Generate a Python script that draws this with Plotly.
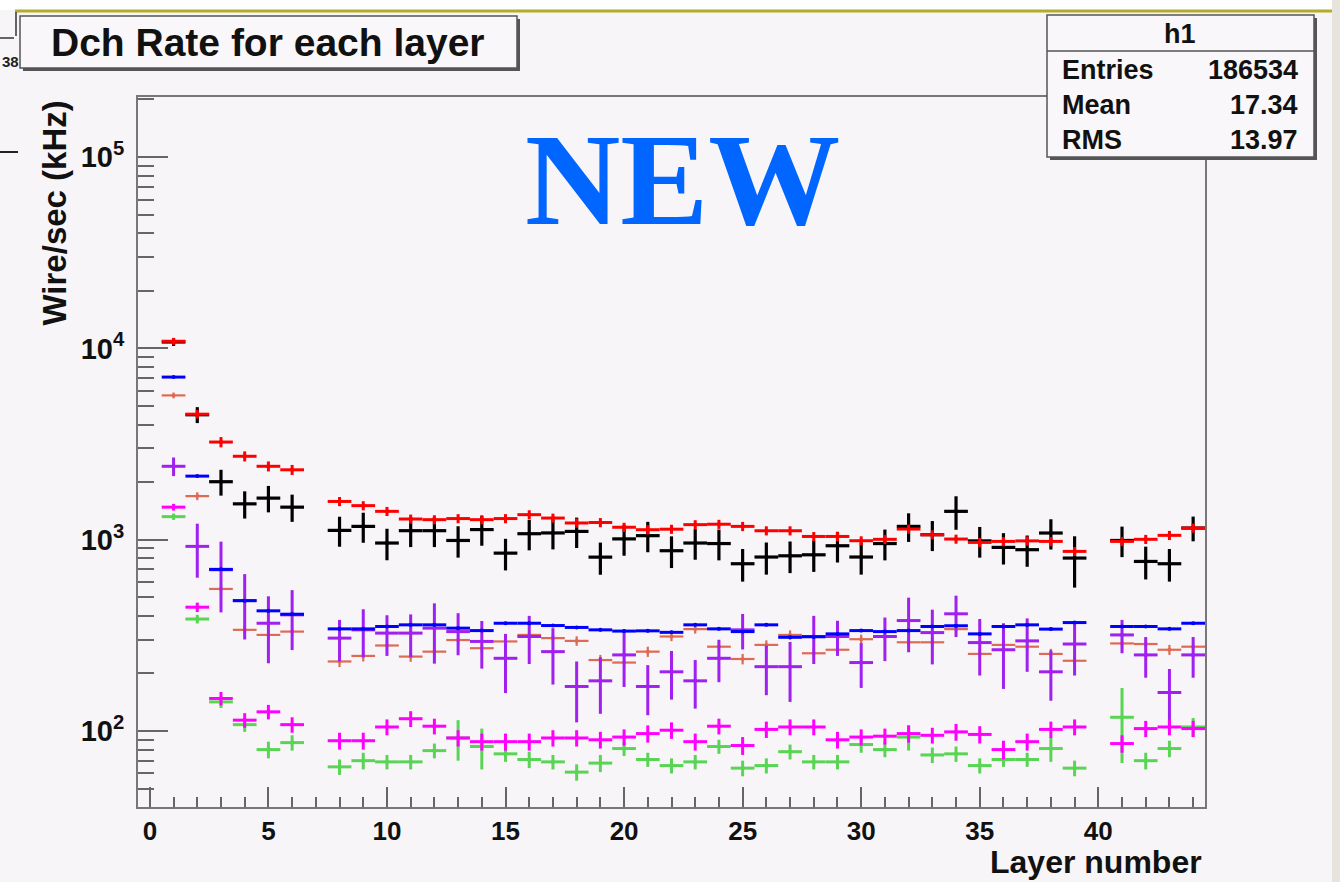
import plotly.graph_objects as go

# ---- layer rates (kHz per wire); None = layer not filled ----
layers = list(range(45))

red = [None, 10900, 4530, 3240, 2730, 2420, 2320, None,
       1585, 1507, 1407, 1283, 1273, 1290, 1273, 1290, 1352, 1298, 1223, 1230,
       1162, 1128, 1135, 1199, 1205, 1174, 1114, 1114, 1040, 1040, 988, 1005,
       1137, 1062, 1008, 968, 980, 986, 980, 869, None, 980, 1005, 1054, 1151]
red_err = [0, 450, 230, 200, 165, 145, 140, 0,
           87, 83, 77, 70, 70, 71, 70, 71, 74, 71, 67, 68,
           64, 62, 62, 66, 66, 65, 61, 61, 57, 57, 54, 55,
           63, 58, 55, 53, 54, 54, 54, 48, 0, 54, 55, 58, 63]

black = [None, 10800, 4500, 2010, 1540, 1650, 1480, None,
         1119, 1174, 961, 1115, 1115, 991, 1130, 851, 1075, 1085, 1105, 811,
         1010, 1050, 876, 961, 955, 749, 812, 824, 834, 930, 812, 955,
         1174, 1062, 1407, 986, 912, 887, 1084, 802, None, 991, 770, 749, 1151]
black_err = [0, 500, 430, 310, 250, 260, 240, 0,
             200, 210, 180, 200, 200, 185, 200, 160, 195, 195, 200, 155,
             185, 190, 165, 175, 175, 145, 155, 155, 155, 170, 155, 175,
             200, 190, 280, 180, 170, 165, 195, 240, 0, 180, 150, 145, 170]

blue = [None, 7080, 2150, 700, 480, 425, 408, None,
        342, 342, 352, 359, 359, 345, 335, 366, 366, 356, 348, 338,
        333, 334, 328, 359, 342, 331, 359, 309, 311, 322, 335, 331,
        335, 352, 355, 322, 352, 359, 341, 369, None, 352, 352, 342, 366]
blue_err = [0, 60, 25, 12, 9, 8, 8, 0,
            6, 6, 6, 6, 6, 6, 6, 6, 6, 6, 6, 6,
            6, 6, 6, 6, 6, 6, 6, 6, 6, 6, 6, 6,
            6, 6, 6, 6, 6, 6, 6, 6, 0, 6, 6, 6, 6]

salmon = [None, 5680, 1690, 553, 338, 318, 331, None,
          231, 247, 280, 245, 260, 299, 271, 294, 318, 306, 296, 235,
          228, 260, 312, 341, 276, 238, 282, 318, 255, 266, 302, 312,
          291, 291, 341, 253, 282, 276, 253, 233, None, 287, 285, 266, 276]
salmon_err = [0, 200, 80, 30, 20, 18, 18, 0,
              15, 16, 17, 15, 16, 17, 16, 17, 18, 17, 17, 15,
              15, 16, 17, 18, 16, 15, 16, 18, 16, 16, 17, 17,
              17, 17, 18, 16, 16, 16, 16, 15, 0, 17, 17, 16, 16]

violet = [None, 2420, 923, 697, 481, 366, 405, None,
          306, 338, 325, 325, 345, 331, 294, 240, 312, 260, 171, 183,
          250, 171, 204, 183, 240, 338, 217, 217, 312, 312, 228, 312,
          378, 327, 410, 290, 266, 296, 204, 285, None, 318, 250, 159, 250]
violet_err = [0, 270, 290, 280, 180, 140, 140, 0,
              75, 95, 78, 82, 120, 82, 82, 82, 88, 85, 60, 60,
              80, 50, 58, 52, 60, 71, 63, 75, 88, 65, 60, 80,
              120, 104, 100, 95, 100, 92, 60, 90, 0, 63, 60, 52, 60]

magenta = [None, 1480, 444, 148, 114, 126, 108, None,
           89, 89, 105, 116, 106, 92, 88, 88, 88, 92, 92, 90,
           93, 97, 101, 88, 106, 84, 102, 105, 105, 90, 93, 94,
           97, 95, 99, 96, 80, 88, 102, 105, None, 86, 103, 105, 103]
magenta_err = [0, 60, 25, 12, 10, 11, 10, 0,
               9, 9, 10, 11, 10, 9, 9, 9, 9, 9, 9, 9,
               9, 10, 10, 9, 10, 9, 10, 10, 10, 9, 9, 9,
               10, 9, 10, 10, 9, 9, 10, 10, 0, 9, 10, 10, 10]

green = [None, 1320, 385, 142, 108, 80, 87, None,
         65, 70, 69, 69, 79, 92, 83, 76, 71, 69, 61, 68,
         81, 71, 66, 69, 83, 64, 66, 78, 69, 69, 85, 80,
         93, 75, 76, 66, 71, 71, 81, 64, None, 118, 70, 81, 105]
green_err = [0, 50, 20, 10, 9, 8, 8, 0,
             6, 7, 6, 6, 7, 22, 20, 7, 7, 6, 6, 7,
             7, 6, 6, 6, 7, 6, 6, 7, 6, 6, 8, 7,
             14, 7, 7, 6, 6, 6, 12, 6, 0, 50, 7, 8, 12]

x_ticks = [0, 5, 10, 15, 20, 25, 30, 35, 40]
y_ticks = [1e2, 1e3, 1e4, 1e5]
y_ticktext = ["10<sup>2</sup>", "10<sup>3</sup>", "10<sup>4</sup>", "10<sup>5</sup>"]
y_minor = [m * 10 ** e for e in range(1, 6) for m in range(2, 10)]

stats_names = ["Entries", "Mean", "RMS"]
stats_values = ["186534", "17.34", "13.97"]

# ---- canvas geometry (pixels) ----
W, H = 1340, 882
L, R, T, B = 138, 1205, 97, 807
BG = "#f8f5f8"
SANS = "Liberation Sans"


def px(x):
    return (x - L) / (R - L)


def py(y):
    return (B - y) / (B - T)


fig = go.Figure()

series = [
    (salmon, salmon_err, "#de6a55", 2.2),
    (violet, violet_err, "#a020f0", 3),
    (blue, blue_err, "#0000ff", 3),
    (green, green_err, "#59d454", 3),
    (magenta, magenta_err, "#ff00ff", 3),
    (black, black_err, "#000000", 3.2),
    (red, red_err, "#ff0000", 3),
]
for vals, errs, col, th in series:
    fig.add_trace(go.Scatter(
        x=layers, y=vals, mode="markers",
        marker=dict(size=4, color=col),
        error_x=dict(type="constant", value=0.5, width=0, thickness=th, color=col),
        error_y=dict(type="data", array=errs, width=0, thickness=th, color=col),
        showlegend=False, hoverinfo="skip",
    ))

x_font = dict(family=SANS, size=26, color="#111111", weight="bold")
y_font = dict(family=SANS, size=29, color="#111111", weight="bold")

fig.update_xaxes(
    range=[-0.5, 44.5], tickvals=x_ticks, ticks="inside", ticklen=20,
    tickwidth=2, tickcolor="#666666", showline=True, linecolor="#777777",
    linewidth=2, mirror=True, showgrid=False, zeroline=False,
    tickfont=x_font,
    minor=dict(dtick=1, tick0=0, ticks="inside", ticklen=10, tickwidth=2,
               tickcolor="#666666", showgrid=False),
)
fig.update_yaxes(
    type="log", range=[1.603, 5.314], tickvals=y_ticks, ticktext=y_ticktext,
    ticks="inside", ticklen=30, tickwidth=2, tickcolor="#666666",
    showline=True, linecolor="#777777", linewidth=2, mirror=True,
    showgrid=False, zeroline=False, tickfont=y_font, ticklabelstandoff=6,
    minor=dict(tickmode="array", tickvals=y_minor, ticks="inside", ticklen=16,
               tickwidth=2, tickcolor="#666666", showgrid=False),
)

shapes = []
annotations = []

# page edges: white top strip, olive rule, textured right border
shapes.append(dict(type="rect", xref="paper", yref="paper", x0=px(0), x1=px(W),
                   y0=py(0), y1=py(10), fillcolor="#ffffff", line_width=0, layer="above"))
shapes.append(dict(type="line", xref="paper", yref="paper", x0=px(15), x1=px(1332),
                   y0=py(11), y1=py(11), line=dict(color="#b4ac28", width=3), layer="above"))
shapes.append(dict(type="rect", xref="paper", yref="paper", x0=px(1332), x1=px(W),
                   y0=py(0), y1=py(H), fillcolor="#e6e4dd", line_width=0, layer="above"))
shapes.append(dict(type="line", xref="paper", yref="paper", x0=px(16), x1=px(16),
                   y0=py(12), y1=py(36), line=dict(color="#333333", width=1.5), layer="above"))
shapes.append(dict(type="line", xref="paper", yref="paper", x0=px(0), x1=px(14),
                   y0=py(38), y1=py(38), line=dict(color="#333333", width=1.5), layer="above"))
shapes.append(dict(type="line", xref="paper", yref="paper", x0=px(0), x1=px(18),
                   y0=py(152), y1=py(152), line=dict(color="#222222", width=2), layer="above"))
annotations.append(dict(xref="paper", yref="paper", x=px(0), y=py(61), text="38",
                        showarrow=False, xanchor="left", yanchor="middle",
                        font=dict(family=SANS, size=15, color="#222222", weight="bold")))

# title box with ROOT-style shadow
shapes.append(dict(type="rect", xref="paper", yref="paper", x0=px(23), x1=px(520),
                   y0=py(71), y1=py(19), fillcolor="#555555", line_width=0, layer="above"))
shapes.append(dict(type="rect", xref="paper", yref="paper", x0=px(20), x1=px(517),
                   y0=py(68), y1=py(16), fillcolor="#f9f7f9",
                   line=dict(color="#555555", width=1.5), layer="above"))
annotations.append(dict(xref="paper", yref="paper", x=px(268), y=py(42),
                        text="Dch Rate for each layer", showarrow=False,
                        xanchor="center", yanchor="middle",
                        font=dict(family=SANS, size=39, color="#111111", weight="bold")))

# statistics box
shapes.append(dict(type="rect", xref="paper", yref="paper", x0=px(1050), x1=px(1317),
                   y0=py(160), y1=py(18), fillcolor="#555555", line_width=0, layer="above"))
shapes.append(dict(type="rect", xref="paper", yref="paper", x0=px(1047), x1=px(1314),
                   y0=py(157), y1=py(15), fillcolor="#f9f7f9",
                   line=dict(color="#555555", width=1.5), layer="above"))
shapes.append(dict(type="line", xref="paper", yref="paper", x0=px(1047), x1=px(1314),
                   y0=py(51), y1=py(51), line=dict(color="#555555", width=1.5), layer="above"))
stat_font = dict(family=SANS, size=27, color="#111111", weight="bold")
annotations.append(dict(xref="paper", yref="paper", x=px(1180), y=py(34), text="h1",
                        showarrow=False, xanchor="center", yanchor="middle", font=stat_font))
for i, (name, val) in enumerate(zip(stats_names, stats_values)):
    yy = 70 + 35 * i
    annotations.append(dict(xref="paper", yref="paper", x=px(1060), y=py(yy), text=name,
                            showarrow=False, xanchor="left", yanchor="middle", font=stat_font))
    annotations.append(dict(xref="paper", yref="paper", x=px(1300), y=py(yy), text=val,
                            showarrow=False, xanchor="right", yanchor="middle", font=stat_font))

# axis titles (ROOT places them at the far end of each axis)
annotations.append(dict(xref="paper", yref="paper", x=px(54), y=py(99),
                        text="Wire/sec (kHz)", textangle=-90, showarrow=False,
                        xanchor="center", yanchor="top",
                        font=dict(family=SANS, size=33, color="#111111", weight="bold")))
annotations.append(dict(xref="paper", yref="paper", x=px(1204), y=py(862),
                        text="Layer number", showarrow=False,
                        xanchor="right", yanchor="middle",
                        font=dict(family=SANS, size=32, color="#111111", weight="bold")))

# overlay label
annotations.append(dict(xref="paper", yref="paper", x=px(682), y=py(180),
                        text="NEW", showarrow=False, xanchor="center", yanchor="middle",
                        font=dict(family="Liberation Serif", size=132, color="#0066ff",
                                  weight="bold")))

fig.update_layout(
    width=W, height=H,
    margin=dict(l=L, r=W - R, t=T, b=H - B, autoexpand=False),
    paper_bgcolor=BG, plot_bgcolor=BG,
    shapes=shapes, annotations=annotations,
    showlegend=False,
)

fig.write_html("out.html")
